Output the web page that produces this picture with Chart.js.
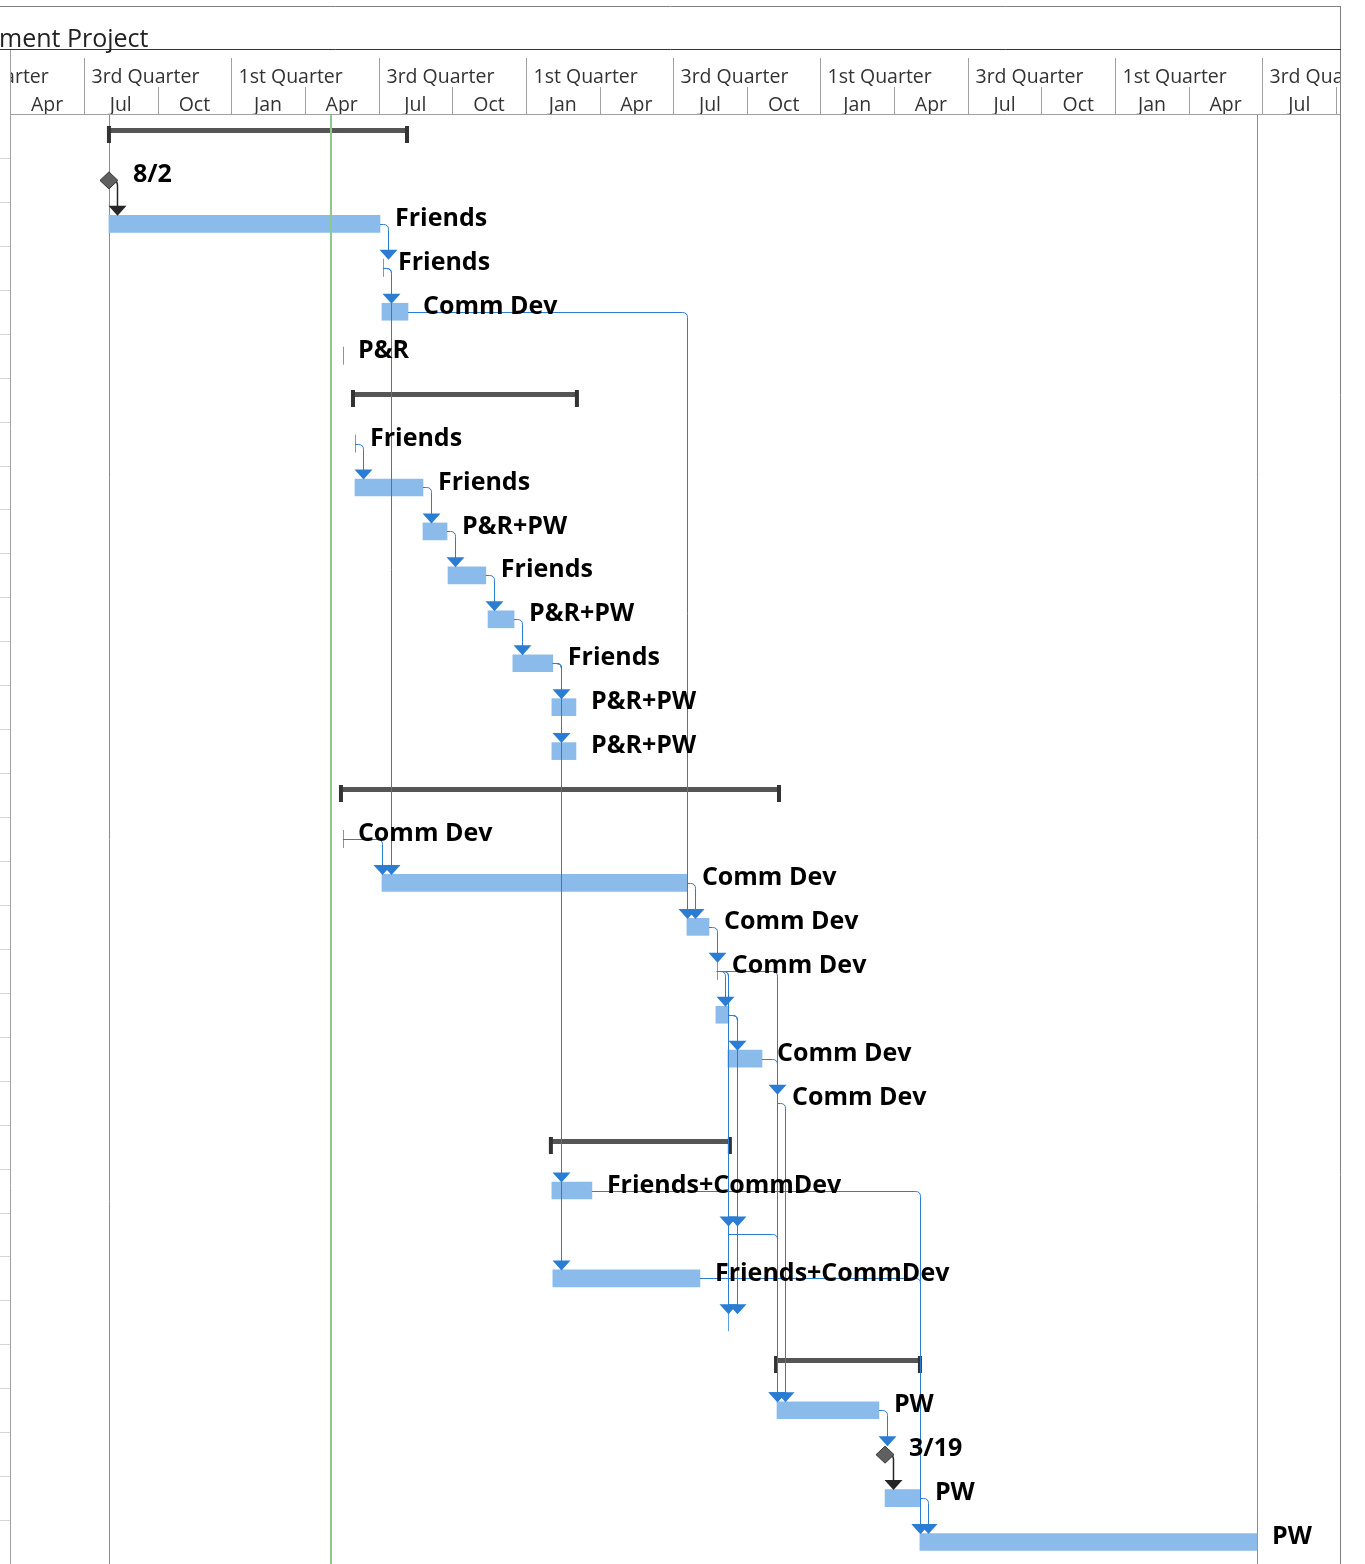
<!DOCTYPE html>
<html>
<head>
<meta charset="utf-8">
<script src="https://cdn.jsdelivr.net/npm/chart.js@4"></script>
<style>
body { margin: 0; background: #fff; }
canvas { display: block; }
</style>
</head>
<body>
<canvas id="gantt" width="1365" height="1564"></canvas>
<script>
// time axis is in months, 0 = start of the first visible "3rd Quarter" (Jul)
var TITLE = 'ment Project';
var HALF_START = -6;
var HALF_LABELS = ['1st Quarter', '3rd Quarter', '1st Quarter', '3rd Quarter', '1st Quarter',
    '3rd Quarter', '1st Quarter', '3rd Quarter', '1st Quarter', '3rd Quarter'];
var QUARTER_START = -3;
var QUARTER_LABELS = ['Apr', 'Jul', 'Oct', 'Jan', 'Apr', 'Jul', 'Oct', 'Jan', 'Apr', 'Jul',
    'Oct', 'Jan', 'Apr', 'Jul', 'Oct', 'Jan', 'Apr', 'Jul', 'Oct'];
var X_MIN = -3.01;
var X_MAX = 51.16;

// one entry per row. kinds: s = summary, t = task, z = zero length task, m = milestone
var ROW_NAMES = ['', '8/2', 'Friends', 'Friends', 'Comm Dev', 'P&R', '', 'Friends', 'Friends',
    'P&R+PW', 'Friends', 'P&R+PW', 'Friends', 'P&R+PW', 'P&R+PW', '', 'Comm Dev', 'Comm Dev',
    'Comm Dev', 'Comm Dev', '', 'Comm Dev', 'Comm Dev', '', 'Friends+CommDev', '',
    'Friends+CommDev', '', '', 'PW', '3/19', 'PW', 'PW'];
var KINDS = ['s', 'm', 't', 'z', 't', 'z', 's', 'z', 't', 't', 't', 't', 't', 't', 't', 's', 'z', 't',
    't', 'z', 't', 't', 'z', 's', 't', 'z', 't', 'z', 's', 't', 'm', 't', 't'];
var STARTS = [1.02, 1.02, 1.02, 12.18, 12.14, 10.55, 10.96, 11.04, 11.04, 13.81, 14.83, 16.46,
    17.47, 19.06, 19.06, 10.47, 10.55, 12.14, 24.56, 25.78, 25.74, 26.23, 28.23, 19.02, 19.06,
    26.23, 19.10, 26.23, 28.19, 28.23, 32.63, 32.63, 34.05];
var ENDS = [13.16, 1.02, 12.06, 12.18, 13.20, 10.55, 20.08, 11.04, 13.81, 14.79, 16.37, 17.52,
    19.10, 20.04, 20.04, 28.31, 10.55, 24.56, 25.46, 25.78, 26.27, 27.62, 28.23, 26.31, 20.69,
    26.23, 25.09, 26.23, 34.05, 32.38, 32.63, 34.05, 47.78];

var LINK_FROM = [1, 2, 3, 3, 4, 7, 8, 9, 10, 11, 12, 12, 12, 12, 16, 17, 18, 19, 19, 19, 19, 20, 20, 20, 21, 22, 25, 24, 26, 31, 29, 30];
var LINK_TO   = [2, 3, 4, 17, 18, 8, 9, 10, 11, 12, 13, 14, 24, 26, 17, 18, 19, 20, 29, 25, 27, 21, 25, 27, 22, 29, 29, 32, 32, 32, 30, 31];

var PROJECT_START = 1.02;
var PROJECT_FINISH = 47.78;
var STATUS_DATE = 10.06;

var LABEL_FONT = 'bold 25px "Open Sans"';
var HEAD_FONT = '19.5px "Open Sans"';
var LINK_BLUE = '#2b7cd3';

function hline(c, x1, x2, y) {
    c.beginPath(); c.moveTo(x1, y); c.lineTo(x2, y); c.stroke();
}
function vline(c, x, y1, y2) {
    c.beginPath(); c.moveTo(x, y1); c.lineTo(x, y2); c.stroke();
}
function px(v) { return Math.round(v) + 0.5; }

function drawFrame(chart) {
    var c = chart.ctx, xs = chart.scales.x, ys = chart.scales.y, a = chart.chartArea;
    c.save();
    c.lineWidth = 1;

    // little grid bits from the table on the left
    c.strokeStyle = '#d6d6d6';
    for (var i = 0; i < ROW_NAMES.length; i++) {
        var yb = px(ys.getPixelForValue(i) + 22);
        hline(c, 0, a.left, yb);
    }

    c.strokeStyle = '#808080';
    hline(c, 0, 1341, 6.5);
    vline(c, 1340.5, 6, 1564);
    c.strokeStyle = '#333';
    hline(c, 0, 1341, 49.5);
    c.strokeStyle = '#a0a0a0';
    hline(c, a.left, 1340, 114.5);
    vline(c, px(a.left), 50, 1564);

    c.fillStyle = '#222';
    c.font = '25px "Open Sans"';
    c.textBaseline = 'alphabetic';
    c.fillText(TITLE, -1, 47);

    // timescale tiers
    c.save();
    c.beginPath(); c.rect(a.left + 1, 50, 1340 - a.left - 1, 64); c.clip();
    c.font = HEAD_FONT;
    c.fillStyle = '#333';
    c.textBaseline = 'middle';
    c.strokeStyle = '#a0a0a0';
    HALF_LABELS.forEach(function (lab, i) {
        var x = px(xs.getPixelForValue(HALF_START + i * 6));
        vline(c, x, 58, 115);
        c.textAlign = 'left';
        c.fillText(lab, x + 7, 77);
    });
    QUARTER_LABELS.forEach(function (lab, i) {
        var m = QUARTER_START + i * 3;
        var x0 = xs.getPixelForValue(m), x1 = xs.getPixelForValue(m + 3);
        if (((m % 6) + 6) % 6 !== 0) vline(c, px(x0), 87, 115);
        c.textAlign = 'center';
        c.fillText(lab, (x0 + x1) / 2, 105);
    });
    c.restore();

    // project start / finish lines
    c.strokeStyle = '#8c8c8c';
    vline(c, px(xs.getPixelForValue(PROJECT_START)), 115, 1564);
    vline(c, px(xs.getPixelForValue(PROJECT_FINISH)), 115, 1564);

    // summary bars and zero length tasks
    KINDS.forEach(function (k, i) {
        var yc = ys.getPixelForValue(i);
        if (k === 's') {
            var x0 = xs.getPixelForValue(STARTS[i]), x1 = xs.getPixelForValue(ENDS[i]);
            var top = Math.round(yc - 8);
            c.fillStyle = '#555';
            c.fillRect(x0, top, x1 - x0, 5);
            c.fillStyle = '#333';
            c.fillRect(x0 - 2, top - 2, 4, 17);
            c.fillRect(x1 - 2, top - 2, 4, 17);
        } else if (k === 'z') {
            c.strokeStyle = '#5d9fe3';
            vline(c, px(xs.getPixelForValue(STARTS[i])), yc - 9, yc + 9);
        }
    });
    c.restore();
}

function drawLink(chart, from, to) {
    var c = chart.ctx, xs = chart.scales.x, ys = chart.scales.y;
    var sx = xs.getPixelForValue(ENDS[from]);
    var sy = px(ys.getPixelForValue(from));
    var tx = xs.getPixelForValue(STARTS[to]);
    var ty = ys.getPixelForValue(to) - 8;
    var vx = px(Math.max(tx, sx + 8));
    var r = 5;
    var col = KINDS[from] === 'm' ? '#262626' : LINK_BLUE;
    c.strokeStyle = col;
    c.lineWidth = KINDS[from] === 'm' ? 1.5 : 1;
    c.beginPath();
    c.moveTo(sx, sy);
    c.lineTo(vx - r, sy);
    c.quadraticCurveTo(vx, sy, vx, sy + r);
    c.lineTo(vx, ty - 9);
    c.stroke();
    c.fillStyle = col;
    c.beginPath();
    c.moveTo(vx - 9, ty - 10);
    c.lineTo(vx + 9, ty - 10);
    c.lineTo(vx, ty);
    c.closePath();
    c.fill();
}

var ganttPlugin = {
    id: 'gantt',
    beforeDatasetsDraw: function (chart) {
        drawFrame(chart);
    },
    afterDatasetsDraw: function (chart) {
        var c = chart.ctx, xs = chart.scales.x, ys = chart.scales.y;
        c.save();

        // status date
        c.strokeStyle = '#8cc98c';
        c.lineWidth = 2;
        vline(c, Math.round(xs.getPixelForValue(STATUS_DATE)), 115, 1564);

        for (var i = 0; i < LINK_FROM.length; i++) {
            drawLink(chart, LINK_FROM[i], LINK_TO[i]);
        }

        // milestones
        KINDS.forEach(function (k, i) {
            if (k !== 'm') return;
            var x = xs.getPixelForValue(STARTS[i]), y = ys.getPixelForValue(i) + 0.5;
            c.beginPath();
            c.moveTo(x, y - 8.5); c.lineTo(x + 9, y); c.lineTo(x, y + 8.5); c.lineTo(x - 9, y);
            c.closePath();
            c.fillStyle = '#606060';
            c.fill();
            c.strokeStyle = '#333';
            c.lineWidth = 1;
            c.stroke();
        });

        // task labels
        c.font = LABEL_FONT;
        c.fillStyle = '#000';
        c.textAlign = 'left';
        c.textBaseline = 'middle';
        ROW_NAMES.forEach(function (name, i) {
            if (!name) return;
            var gap = KINDS[i] === 'm' ? 24 : 15;
            c.fillText(name, xs.getPixelForValue(ENDS[i]) + gap, ys.getPixelForValue(i) - 5);
        });
        c.restore();
    }
};

var barData = KINDS.map(function (k, i) {
    return k === 't' ? [STARTS[i], ENDS[i]] : null;
});

var ctx = document.getElementById('gantt').getContext('2d');
var gantt = new Chart(ctx, {
    type: 'bar',
    data: {
        labels: ROW_NAMES.map(function (n, i) { return String(i); }),
        datasets: [{
            data: barData,
            backgroundColor: '#8bbbeb',
            borderWidth: 0,
            barThickness: 17
        }]
    },
    options: {
        indexAxis: 'y',
        responsive: false,
        animation: false,
        layout: { padding: { left: 10, right: 25, top: 114, bottom: 0 } },
        plugins: { legend: { display: false }, tooltip: { enabled: false } },
        scales: {
            x: { type: 'linear', min: X_MIN, max: X_MAX, display: false },
            y: { display: false }
        }
    },
    plugins: [ganttPlugin]
});
</script>
</body>
</html>
